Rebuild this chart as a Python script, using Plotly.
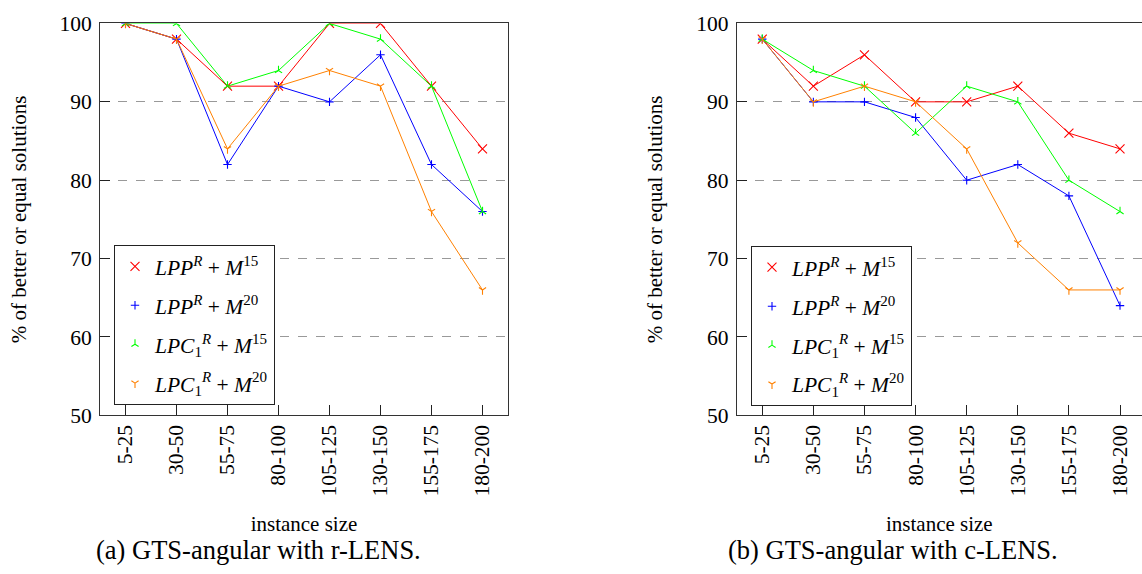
import plotly.graph_objects as go

# ---------------- data ----------------
categories = ["5-25", "30-50", "55-75", "80-100", "105-125", "130-150", "155-175", "180-200"]

# (a) GTS-angular with r-LENS
r_lpp_m15 = [100, 98, 92, 92, 100, 100, 92, 84]
r_lpp_m20 = [100, 98, 82, 92, 90, 96, 82, 76]
r_lpc_m15 = [100, 100, 92, 94, 100, 98, 92, 76]
r_lpc_m20 = [100, 98, 84, 92, 94, 92, 76, 66]

# (b) GTS-angular with c-LENS
c_lpp_m15 = [98, 92, 96, 90, 90, 92, 86, 84]
c_lpp_m20 = [98, 90, 90, 88, 80, 82, 78, 64]
c_lpc_m15 = [98, 94, 92, 86, 92, 90, 80, 76]
c_lpc_m20 = [98, 90, 92, 90, 84, 72, 66, 66]

series_names = [
    "<i>LPP</i><sup><i>R</i></sup> + <i>M</i><sup>15</sup>",
    "<i>LPP</i><sup><i>R</i></sup> + <i>M</i><sup>20</sup>",
    "<i>LPC</i><sub>1</sub><sup><i>R</i></sup> + <i>M</i><sup>15</sup>",
    "<i>LPC</i><sub>1</sub><sup><i>R</i></sup> + <i>M</i><sup>20</sup>",
]
y_ticks = [50, 60, 70, 80, 90, 100]
captions = ["(a) GTS-angular with r-LENS.", "(b) GTS-angular with c-LENS."]
x_title = "instance size"
y_title = "% of better or equal solutions"

# ---------------- styles ----------------
colors = ["#ff0000", "#0000ff", "#00ff00", "#ff8000"]
symbols = ["x-thin", "cross-thin", "y-up", "y-down"]
msizes = [9, 6, 6, 6]
FONT = "Liberation Serif"

W, H = 1142, 574
fig = go.Figure()

panels = [
    ([r_lpp_m15, r_lpp_m20, r_lpc_m15, r_lpc_m20], "x", "y", "legend"),
    ([c_lpp_m15, c_lpp_m20, c_lpc_m15, c_lpc_m20], "x2", "y2", "legend2"),
]

for series, xa, ya, lg in panels:
    for i, vals in enumerate(series):
        fig.add_trace(go.Scatter(
            x=categories, y=vals, mode="lines+markers",
            line=dict(color=colors[i], width=1),
            marker=dict(symbol=symbols[i], size=msizes[i],
                        line=dict(color=colors[i], width=1.1), color=colors[i]),
            xaxis=xa, yaxis=ya, showlegend=False, hoverinfo="skip",
        ))
    # legend entries (marker only, as in the reference)
    for i in range(4):
        fig.add_trace(go.Scatter(
            x=[None], y=[None], mode="markers", name=series_names[i],
            marker=dict(symbol=symbols[i], size=msizes[i],
                        line=dict(color=colors[i], width=1.1), color=colors[i]),
            xaxis=xa, yaxis=ya, legend=lg, legendgroup=f"{lg}{i}", showlegend=True,
        ))

def px_x(p):
    return p / W

def px_y(p):
    return 1 - p / H

TICK_SIZE = 21.5
TITLE_SIZE = 21

axis_common = dict(
    showline=True, linecolor="#333333", linewidth=1,
    ticks="inside", ticklen=10, tickcolor="#222222", tickwidth=1,
    tickfont=dict(family=FONT, size=TICK_SIZE, color="black"),
    zeroline=False,
)

ydom = [px_y(422), px_y(13)]

xt = dict(text=x_title, font=dict(family=FONT, size=TITLE_SIZE), standoff=20)
yt = dict(text=y_title, font=dict(family=FONT, size=TITLE_SIZE), standoff=27)

legend_common = dict(
    xanchor="left", yanchor="top",
    bgcolor="white", bordercolor="#222222", borderwidth=1,
    font=dict(family=FONT, size=21.5, color="black"),
    traceorder="grouped", tracegroupgap=8, itemwidth=30,
)

fig.update_layout(
    width=W, height=H,
    margin=dict(l=0, r=0, t=0, b=0),
    paper_bgcolor="white", plot_bgcolor="white",
    font=dict(family=FONT, size=20, color="black"),
    xaxis=dict(domain=[px_x(100), px_x(508)], type="category", range=[-0.5, 7.5],
               tickangle=-90, showgrid=False, mirror=True, anchor="y",
               title=xt, **axis_common),
    yaxis=dict(domain=ydom, range=[50, 100], tickvals=y_ticks, anchor="x",
               showgrid=True, gridcolor="#999999", griddash="dash", gridwidth=1,
               mirror=True, ticklabelstandoff=3, title=yt, **axis_common),
    xaxis2=dict(domain=[px_x(736.7), 1.0], type="category", range=[-0.5, 7.43],
                tickangle=-90, showgrid=False, mirror=True, anchor="y2",
                title=xt, **axis_common),
    yaxis2=dict(domain=ydom, range=[50, 100], tickvals=y_ticks, anchor="x2",
                showgrid=True, gridcolor="#999999", griddash="dash", gridwidth=1,
                mirror=False, ticklabelstandoff=3, title=yt, **axis_common),
    legend=dict(x=px_x(114), y=px_y(244), **legend_common),
    legend2=dict(x=px_x(751), y=px_y(245), **legend_common),
    annotations=[
        dict(text=captions[0], x=px_x(258), y=px_y(563), xref="paper", yref="paper",
             showarrow=False, xanchor="center", yanchor="middle",
             font=dict(family=FONT, size=26.5, color="black")),
        dict(text=captions[1], x=px_x(893), y=px_y(563), xref="paper", yref="paper",
             showarrow=False, xanchor="center", yanchor="middle",
             font=dict(family=FONT, size=26.5, color="black")),
    ],
)

fig.write_html("out.html", config={"displayModeBar": False},
               post_script="document.body.style.margin='0';")
